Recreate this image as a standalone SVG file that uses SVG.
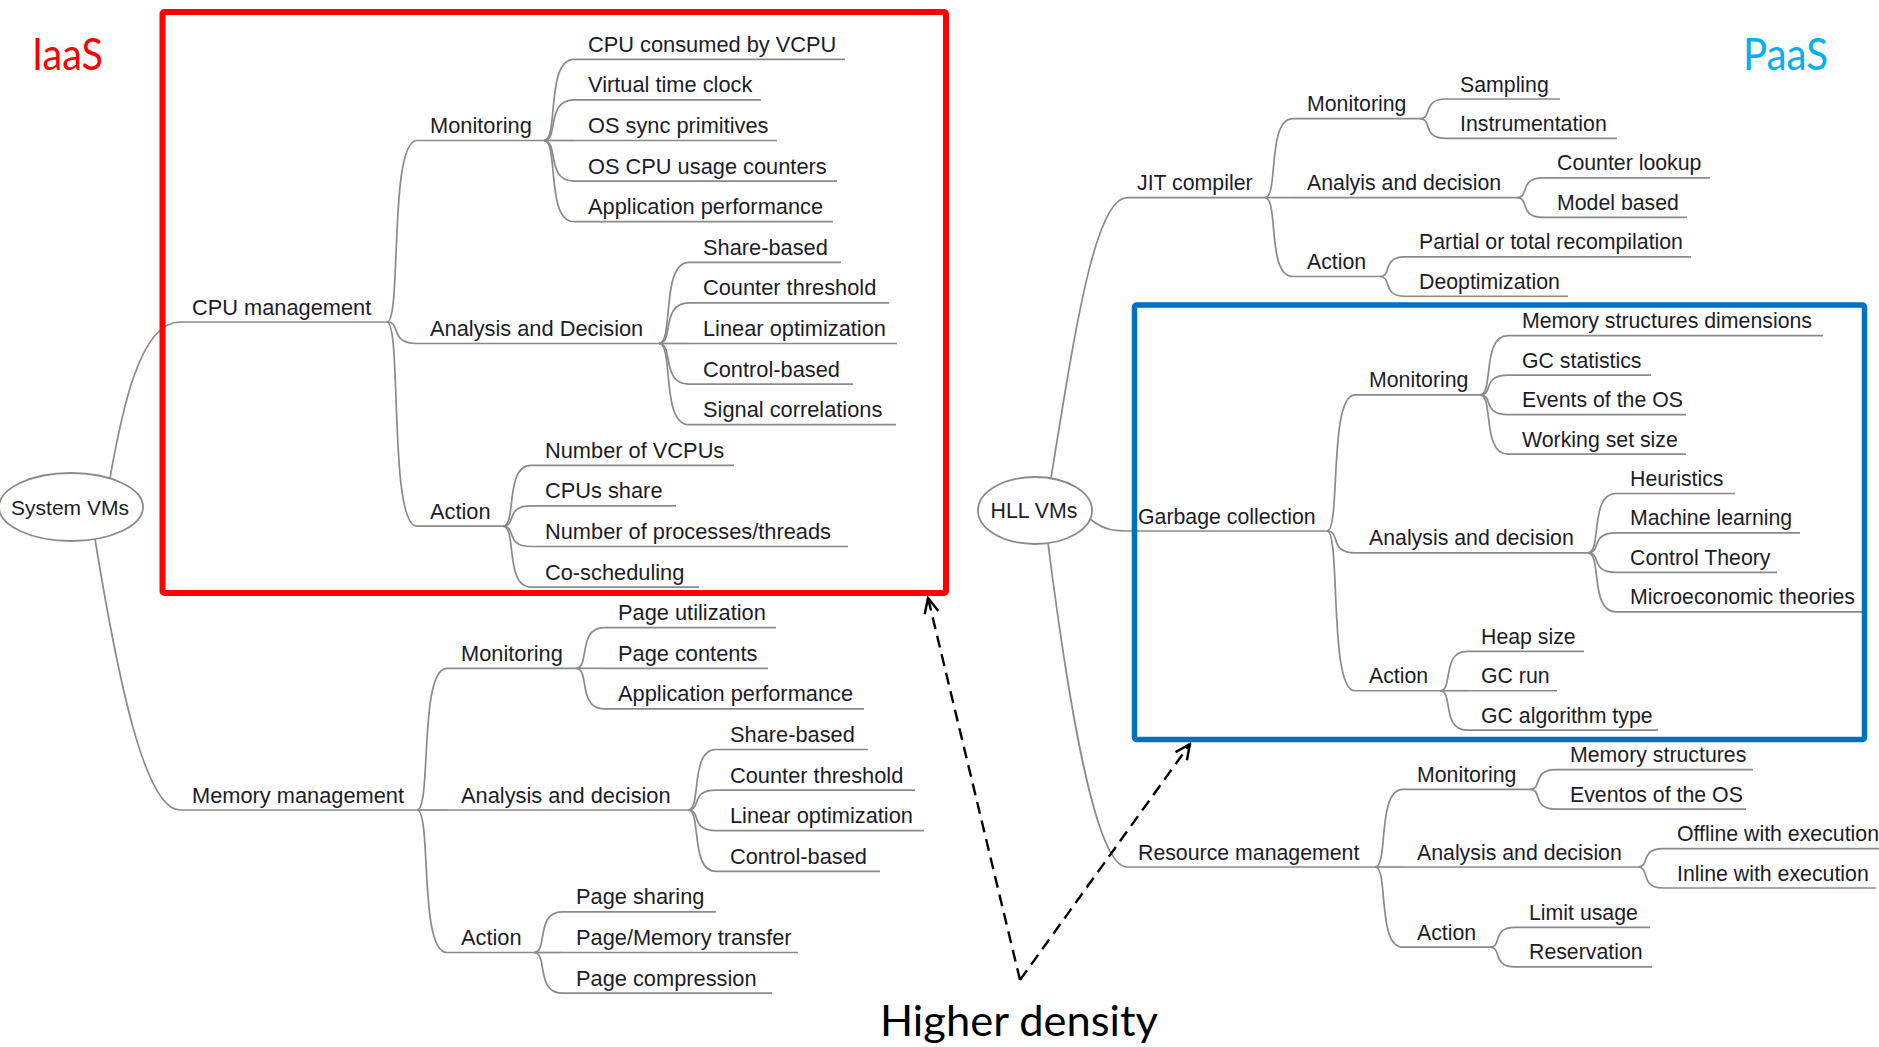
<svg xmlns="http://www.w3.org/2000/svg" width="1879" height="1047" viewBox="0 0 1879 1047">
  <style>
    .tl { font-family: "Liberation Sans", Arial, sans-serif; font-size: 21.8px; fill: #1c1c28; }
    .tr { font-family: "Liberation Sans", Arial, sans-serif; font-size: 21.3px; fill: #1c1c28; }
    .ul { stroke: #8a8a8a; stroke-width: 1.7; fill: none; }
    .cn path { stroke: #8a8a8a; stroke-width: 1.7; fill: none; }
    .root { fill: #ffffff; stroke: #8a8a8a; stroke-width: 1.8; }
    .title { font-family: Lato, "Open Sans", sans-serif; font-size: 45px; }
    .dash { stroke: #000; stroke-width: 2.4; fill: none; stroke-dasharray: 12 7; }
  </style>
  <defs>
    <marker id="open" viewBox="0 0 20 20" refX="18" refY="10" markerWidth="20" markerHeight="20" markerUnits="userSpaceOnUse" orient="auto">
      <path d="M3,3 L18,10 L3,17" fill="none" stroke="#000" stroke-width="2.4"/>
    </marker>
  </defs>
  <rect width="1879" height="1047" fill="#ffffff"/>

  <!-- connectors -->
  <g id="connectors" class="cn">
    <path d="M110,478 C122,410 140,322 180,322"/>
    <path d="M95,539 C118,680 145,810 180,810"/>
    <path d="M387,322 c15,0 1.5,-181.5 30,-181.5"/>
    <path d="M387,322 c15,0 1.5,21.5 30,21.5"/>
    <path d="M387,322 c15,0 1.5,204.2 30,204.2"/>
    <path d="M417,810 c15,0 1.5,-141.7 30,-141.7"/>
    <path d="M417,810 h30"/>
    <path d="M417,810 c15,0 1.5,142.5 30,142.5"/>
    <path d="M544,140.5 c15,0 1.5,-81.2 30,-81.2"/>
    <path d="M544,140.5 c15,0 1.5,-40.6 30,-40.6"/>
    <path d="M544,140.5 h30"/>
    <path d="M544,140.5 c15,0 1.5,40.6 30,40.6"/>
    <path d="M544,140.5 c15,0 1.5,81.2 30,81.2"/>
    <path d="M659,343.5 c15,0 1.5,-81.2 30,-81.2"/>
    <path d="M659,343.5 c15,0 1.5,-40.6 30,-40.6"/>
    <path d="M659,343.5 h30"/>
    <path d="M659,343.5 c15,0 1.5,40.6 30,40.6"/>
    <path d="M659,343.5 c15,0 1.5,81.2 30,81.2"/>
    <path d="M503,526.2 c14,0 1.4,-60.9 28,-60.9"/>
    <path d="M503,526.2 c14,0 1.4,-20.3 28,-20.3"/>
    <path d="M503,526.2 c14,0 1.4,20.3 28,20.3"/>
    <path d="M503,526.2 c14,0 1.4,60.9 28,60.9"/>
    <path d="M576,668.3 c14,0 1.4,-40.6 28,-40.6"/>
    <path d="M576,668.3 h28"/>
    <path d="M576,668.3 c14,0 1.4,40.6 28,40.6"/>
    <path d="M688,810 c14,0 1.4,-60.5 28,-60.5"/>
    <path d="M688,810 c14,0 1.4,-19.9 28,-19.9"/>
    <path d="M688,810 c14,0 1.4,20.7 28,20.7"/>
    <path d="M688,810 c14,0 1.4,61.3 28,61.3"/>
    <path d="M534,952.5 c14,0 1.4,-40.6 28,-40.6"/>
    <path d="M534,952.5 h28"/>
    <path d="M534,952.5 c14,0 1.4,40.6 28,40.6"/>

    <path d="M1051,478 C1075,330 1095,197.6 1127,197.6"/>
    <path d="M1090,519 C1105,531 1115,531 1133,531"/>
    <path d="M1048,543 C1068,700 1095,867 1127,867"/>
    <path d="M1265,197.6 c14,0 1.4,-78.9 28,-78.9"/>
    <path d="M1265,197.6 h28"/>
    <path d="M1265,197.6 c14,0 1.4,78.9 28,78.9"/>
    <path d="M1420,118.7 c13,0 1.3,-19.7 26,-19.7"/>
    <path d="M1420,118.7 c13,0 1.3,19.75 26,19.75"/>
    <path d="M1517,197.6 c13,0 1.3,-19.7 26,-19.7"/>
    <path d="M1517,197.6 c13,0 1.3,19.75 26,19.75"/>
    <path d="M1380,276.5 c12.5,0 1.25,-19.7 25,-19.7"/>
    <path d="M1380,276.5 c12.5,0 1.25,19.75 25,19.75"/>
    <path d="M1327,531 c14,0 1.4,-136.1 28,-136.1"/>
    <path d="M1327,531 c14,0 1.4,21.8 28,21.8"/>
    <path d="M1327,531 c14,0 1.4,159.75 28,159.75"/>
    <path d="M1480,394.9 c14,0 1.4,-59.2 28,-59.2"/>
    <path d="M1480,394.9 c14,0 1.4,-19.75 28,-19.75"/>
    <path d="M1480,394.9 c14,0 1.4,19.7 28,19.7"/>
    <path d="M1480,394.9 c14,0 1.4,59.15 28,59.15"/>
    <path d="M1588,552.8 c14,0 1.4,-59.3 28,-59.3"/>
    <path d="M1588,552.8 c14,0 1.4,-19.85 28,-19.85"/>
    <path d="M1588,552.8 c14,0 1.4,19.6 28,19.6"/>
    <path d="M1588,552.8 c14,0 1.4,59.05 28,59.05"/>
    <path d="M1440,690.75 c13.5,0 1.35,-39.45 27,-39.45"/>
    <path d="M1440,690.75 h27"/>
    <path d="M1440,690.75 c13.5,0 1.35,39.45 27,39.45"/>
    <path d="M1375,867 c14,0 1.4,-77.6 28,-77.6"/>
    <path d="M1375,867 h28"/>
    <path d="M1375,867 c14,0 1.4,80.2 28,80.2"/>
    <path d="M1530,789.4 c13,0 1.3,-19.75 26,-19.75"/>
    <path d="M1530,789.4 c13,0 1.3,19.7 26,19.7"/>
    <path d="M1638,867 c12.5,0 1.25,-18.45 25,-18.45"/>
    <path d="M1638,867 c12.5,0 1.25,21 25,21"/>
    <path d="M1490,947.2 c12.5,0 1.25,-19.75 25,-19.75"/>
    <path d="M1490,947.2 c12.5,0 1.25,19.7 25,19.7"/>
  </g>

  <!-- System VMs tree -->
  <g id="system-vms"><ellipse class="root" cx="71" cy="507" rx="72" ry="34"/><text class="tl" x="70" y="515" text-anchor="middle" style="font-size:21px">System VMs</text></g>
  <g id="cpu-management"><line class="ul" x1="180" y1="322" x2="387" y2="322"/><text class="tl" x="192" y="314.5">CPU management</text></g>
  <g id="memory-management"><line class="ul" x1="180" y1="810" x2="417" y2="810"/><text class="tl" x="192" y="802.5">Memory management</text></g>
  <g id="cpu-monitoring"><line class="ul" x1="417" y1="140.5" x2="544" y2="140.5"/><text class="tl" x="430" y="133">Monitoring</text></g>
  <g id="cpu-analysis"><line class="ul" x1="417" y1="343.5" x2="659" y2="343.5"/><text class="tl" x="430" y="336">Analysis and Decision</text></g>
  <g id="cpu-action"><line class="ul" x1="417" y1="526.2" x2="503" y2="526.2"/><text class="tl" x="430" y="518.7">Action</text></g>
  <g id="mem-monitoring"><line class="ul" x1="447" y1="668.3" x2="576" y2="668.3"/><text class="tl" x="461" y="660.8">Monitoring</text></g>
  <g id="mem-analysis"><line class="ul" x1="447" y1="810" x2="688" y2="810"/><text class="tl" x="461" y="802.5">Analysis and decision</text></g>
  <g id="mem-action"><line class="ul" x1="447" y1="952.5" x2="534" y2="952.5"/><text class="tl" x="461" y="945">Action</text></g>

  <g id="cpu-consumed"><line class="ul" x1="574" y1="59.3" x2="845" y2="59.3"/><text class="tl" x="588" y="51.8">CPU consumed by VCPU</text></g>
  <g id="virtual-time-clock"><line class="ul" x1="574" y1="99.9" x2="761" y2="99.9"/><text class="tl" x="588" y="92.4">Virtual time clock</text></g>
  <g id="os-sync"><line class="ul" x1="574" y1="140.5" x2="777" y2="140.5"/><text class="tl" x="588" y="133">OS sync primitives</text></g>
  <g id="os-cpu-usage"><line class="ul" x1="574" y1="181.1" x2="837" y2="181.1"/><text class="tl" x="588" y="173.6">OS CPU usage counters</text></g>
  <g id="cpu-app-perf"><line class="ul" x1="574" y1="221.7" x2="833" y2="221.7"/><text class="tl" x="588" y="214.2">Application performance</text></g>
  <g id="cpu-share-based"><line class="ul" x1="689" y1="262.3" x2="841" y2="262.3"/><text class="tl" x="703" y="254.8">Share-based</text></g>
  <g id="cpu-counter-threshold"><line class="ul" x1="689" y1="302.9" x2="889" y2="302.9"/><text class="tl" x="703" y="295.4">Counter threshold</text></g>
  <g id="cpu-linear-opt"><line class="ul" x1="689" y1="343.5" x2="897" y2="343.5"/><text class="tl" x="703" y="336">Linear optimization</text></g>
  <g id="cpu-control-based"><line class="ul" x1="689" y1="384.1" x2="853" y2="384.1"/><text class="tl" x="703" y="376.6">Control-based</text></g>
  <g id="signal-correlations"><line class="ul" x1="689" y1="424.7" x2="896" y2="424.7"/><text class="tl" x="703" y="417.2">Signal correlations</text></g>
  <g id="number-of-vcpus"><line class="ul" x1="531" y1="465.3" x2="734" y2="465.3"/><text class="tl" x="545" y="457.8">Number of VCPUs</text></g>
  <g id="cpus-share"><line class="ul" x1="531" y1="505.9" x2="676" y2="505.9"/><text class="tl" x="545" y="498.4">CPUs share</text></g>
  <g id="processes-threads"><line class="ul" x1="531" y1="546.5" x2="848" y2="546.5"/><text class="tl" x="545" y="539">Number of processes/threads</text></g>
  <g id="co-scheduling"><line class="ul" x1="531" y1="587.1" x2="699" y2="587.1"/><text class="tl" x="545" y="579.6">Co-scheduling</text></g>
  <g id="page-utilization"><line class="ul" x1="604" y1="627.7" x2="776" y2="627.7"/><text class="tl" x="618" y="620.2">Page utilization</text></g>
  <g id="page-contents"><line class="ul" x1="604" y1="668.3" x2="768" y2="668.3"/><text class="tl" x="618" y="660.8">Page contents</text></g>
  <g id="mem-app-perf"><line class="ul" x1="604" y1="708.9" x2="864" y2="708.9"/><text class="tl" x="618" y="701.4">Application performance</text></g>
  <g id="mem-share-based"><line class="ul" x1="716" y1="749.5" x2="868" y2="749.5"/><text class="tl" x="730" y="742">Share-based</text></g>
  <g id="mem-counter-threshold"><line class="ul" x1="716" y1="790.1" x2="915" y2="790.1"/><text class="tl" x="730" y="782.6">Counter threshold</text></g>
  <g id="mem-linear-opt"><line class="ul" x1="716" y1="830.7" x2="924" y2="830.7"/><text class="tl" x="730" y="823.2">Linear optimization</text></g>
  <g id="mem-control-based"><line class="ul" x1="716" y1="871.3" x2="880" y2="871.3"/><text class="tl" x="730" y="863.8">Control-based</text></g>
  <g id="page-sharing"><line class="ul" x1="562" y1="911.9" x2="716" y2="911.9"/><text class="tl" x="576" y="904.4">Page sharing</text></g>
  <g id="page-transfer"><line class="ul" x1="562" y1="952.5" x2="798" y2="952.5"/><text class="tl" x="576" y="945">Page/Memory transfer</text></g>
  <g id="page-compression"><line class="ul" x1="562" y1="993.1" x2="772" y2="993.1"/><text class="tl" x="576" y="985.6">Page compression</text></g>

  <!-- HLL VMs tree -->
  <g id="hll-vms"><ellipse class="root" cx="1035" cy="510.5" rx="57" ry="33.5"/><text class="tr" x="1034" y="518" text-anchor="middle">HLL VMs</text></g>
  <g id="jit-compiler"><line class="ul" x1="1127" y1="197.6" x2="1265" y2="197.6"/><text class="tr" x="1137" y="190.1">JIT compiler</text></g>
  <g id="garbage-collection"><line class="ul" x1="1133" y1="531" x2="1327" y2="531"/><text class="tr" x="1138" y="523.5">Garbage collection</text></g>
  <g id="resource-management"><line class="ul" x1="1127" y1="867" x2="1375" y2="867"/><text class="tr" x="1138" y="859.5">Resource management</text></g>
  <g id="jit-monitoring"><line class="ul" x1="1293" y1="118.7" x2="1420" y2="118.7"/><text class="tr" x="1307" y="111.2">Monitoring</text></g>
  <g id="jit-analysis"><line class="ul" x1="1293" y1="197.6" x2="1517" y2="197.6"/><text class="tr" x="1307" y="190.1">Analyis and decision</text></g>
  <g id="jit-action"><line class="ul" x1="1293" y1="276.5" x2="1380" y2="276.5"/><text class="tr" x="1307" y="269">Action</text></g>
  <g id="gc-monitoring"><line class="ul" x1="1355" y1="394.9" x2="1480" y2="394.9"/><text class="tr" x="1369" y="387.4">Monitoring</text></g>
  <g id="gc-analysis"><line class="ul" x1="1355" y1="552.8" x2="1588" y2="552.8"/><text class="tr" x="1369" y="545.3">Analysis and decision</text></g>
  <g id="gc-action"><line class="ul" x1="1355" y1="690.75" x2="1440" y2="690.75"/><text class="tr" x="1369" y="683.25">Action</text></g>
  <g id="res-monitoring"><line class="ul" x1="1403" y1="789.4" x2="1530" y2="789.4"/><text class="tr" x="1417" y="781.9">Monitoring</text></g>
  <g id="res-analysis"><line class="ul" x1="1403" y1="867" x2="1638" y2="867"/><text class="tr" x="1417" y="859.5">Analysis and decision</text></g>
  <g id="res-action"><line class="ul" x1="1403" y1="947.2" x2="1490" y2="947.2"/><text class="tr" x="1417" y="939.7">Action</text></g>

  <g id="sampling"><line class="ul" x1="1446" y1="99" x2="1560" y2="99"/><text class="tr" x="1460" y="91.5">Sampling</text></g>
  <g id="instrumentation"><line class="ul" x1="1446" y1="138.45" x2="1617" y2="138.45"/><text class="tr" x="1460" y="130.95">Instrumentation</text></g>
  <g id="counter-lookup"><line class="ul" x1="1543" y1="177.9" x2="1710" y2="177.9"/><text class="tr" x="1557" y="170.4">Counter lookup</text></g>
  <g id="model-based"><line class="ul" x1="1543" y1="217.35" x2="1687" y2="217.35"/><text class="tr" x="1557" y="209.85">Model based</text></g>
  <g id="recompilation"><line class="ul" x1="1405" y1="256.8" x2="1691" y2="256.8"/><text class="tr" x="1419" y="249.3">Partial or total recompilation</text></g>
  <g id="deoptimization"><line class="ul" x1="1405" y1="296.25" x2="1568" y2="296.25"/><text class="tr" x="1419" y="288.75">Deoptimization</text></g>
  <g id="mem-structures-dim"><line class="ul" x1="1508" y1="335.7" x2="1823" y2="335.7"/><text class="tr" x="1522" y="328.2">Memory structures dimensions</text></g>
  <g id="gc-statistics"><line class="ul" x1="1508" y1="375.15" x2="1651" y2="375.15"/><text class="tr" x="1522" y="367.65">GC statistics</text></g>
  <g id="gc-os-events"><line class="ul" x1="1508" y1="414.6" x2="1686" y2="414.6"/><text class="tr" x="1522" y="407.1">Events of the OS</text></g>
  <g id="working-set"><line class="ul" x1="1508" y1="454.05" x2="1686" y2="454.05"/><text class="tr" x="1522" y="446.55">Working set size</text></g>
  <g id="heuristics"><line class="ul" x1="1616" y1="493.5" x2="1735" y2="493.5"/><text class="tr" x="1630" y="486">Heuristics</text></g>
  <g id="machine-learning"><line class="ul" x1="1616" y1="532.95" x2="1800" y2="532.95"/><text class="tr" x="1630" y="525.45">Machine learning</text></g>
  <g id="control-theory"><line class="ul" x1="1616" y1="572.4" x2="1777" y2="572.4"/><text class="tr" x="1630" y="564.9">Control Theory</text></g>
  <g id="microeconomic"><line class="ul" x1="1616" y1="611.85" x2="1862" y2="611.85"/><text class="tr" x="1630" y="604.35">Microeconomic theories</text></g>
  <g id="heap-size"><line class="ul" x1="1467" y1="651.3" x2="1584" y2="651.3"/><text class="tr" x="1481" y="643.8">Heap size</text></g>
  <g id="gc-run"><line class="ul" x1="1467" y1="690.75" x2="1557" y2="690.75"/><text class="tr" x="1481" y="683.25">GC run</text></g>
  <g id="gc-algorithm"><line class="ul" x1="1467" y1="730.2" x2="1658" y2="730.2"/><text class="tr" x="1481" y="722.7">GC algorithm type</text></g>
  <g id="memory-structures"><line class="ul" x1="1556" y1="769.65" x2="1753" y2="769.65"/><text class="tr" x="1570" y="762.15">Memory structures</text></g>
  <g id="res-os-events"><line class="ul" x1="1556" y1="809.1" x2="1746" y2="809.1"/><text class="tr" x="1570" y="801.6">Eventos of the OS</text></g>
  <g id="offline"><line class="ul" x1="1663" y1="848.55" x2="1879" y2="848.55"/><text class="tr" x="1677" y="841.05">Offline with execution</text></g>
  <g id="inline"><line class="ul" x1="1663" y1="888" x2="1876" y2="888"/><text class="tr" x="1677" y="880.5">Inline with execution</text></g>
  <g id="limit-usage"><line class="ul" x1="1515" y1="927.45" x2="1650" y2="927.45"/><text class="tr" x="1529" y="919.95">Limit usage</text></g>
  <g id="reservation"><line class="ul" x1="1515" y1="966.9" x2="1652" y2="966.9"/><text class="tr" x="1529" y="959.4">Reservation</text></g>

  <!-- highlighted regions -->
  <g id="highlights" fill="none">
    <rect x="162.5" y="12" width="783.5" height="581" rx="2" stroke="#ff0000" stroke-width="6"/>
    <rect x="1134.5" y="305" width="730" height="434.5" rx="2" stroke="#0070c0" stroke-width="5.5"/>
  </g>

  <!-- labels -->
  <text class="title" x="32" y="70" fill="#ff0000" textLength="71" lengthAdjust="spacingAndGlyphs">IaaS</text>
  <text class="title" x="1743" y="70" fill="#00b0f0" textLength="85" lengthAdjust="spacingAndGlyphs">PaaS</text>

  <g id="density-note">
    <path class="dash" d="M1020,980 L928,598" marker-end="url(#open)"/>
    <path class="dash" d="M1020,980 L1190,744" marker-end="url(#open)"/>
    <text x="880" y="1036" font-family="Lato, 'Open Sans', sans-serif" font-size="43" fill="#000" textLength="278" lengthAdjust="spacingAndGlyphs">Higher density</text>
  </g>
</svg>
